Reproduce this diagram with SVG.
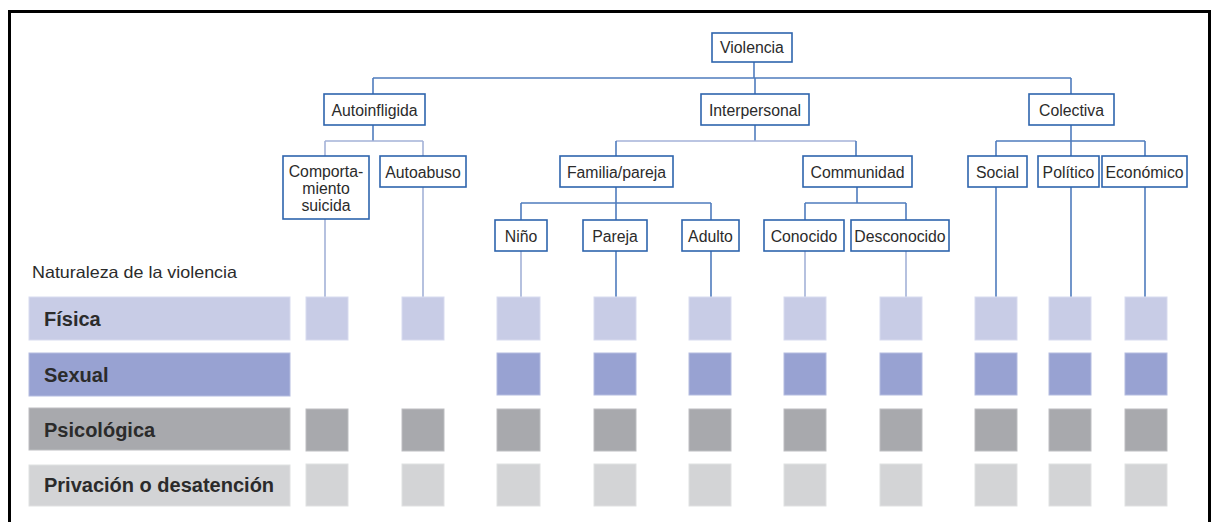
<svg xmlns="http://www.w3.org/2000/svg" width="1213" height="522" viewBox="0 0 1213 522">
<style>
.node rect{fill:#fff;stroke:#2e64ad;stroke-width:1.6}
.node text{font-family:"Liberation Sans",Arial,sans-serif;font-size:15.8px;fill:#2b2b2b;text-anchor:middle}
.c{fill:none;stroke:#4f7cbd;stroke-width:1.6}
.p{fill:none;stroke:#a4b2d8;stroke-width:1.6}
.lab{font-family:"Liberation Sans",Arial,sans-serif;font-weight:bold;font-size:20px;fill:#2b2b2b}
.f{fill:#c8cce6;stroke:#d8dbef;stroke-width:1}
.s{fill:#98a2d2;stroke:#b4bce0;stroke-width:1}
.g{fill:#a8a9ad;stroke:#bdbec1;stroke-width:1}
.l{fill:#d3d4d6;stroke:#e0e1e2;stroke-width:1}
</style>
<rect x="0" y="0" width="1213" height="522" fill="#fff"/>
<path d="M9.5 530 V11.5 H1209.5 V530" fill="none" stroke="#000" stroke-width="3"/>

<g id="connectors">
<path class="c" d="M754 62 V78 M373 78 H1071 M373 78 V94 M755 78 V94 M1071 78 V94"/>
<path class="c" d="M373 125 V141"/>
<path class="p" d="M325 141 H423 M325 141 V156 M423 141 V156"/>
<path class="c" d="M755 125 V141"/>
<path class="p" d="M616 141 H856"/>
<path class="c" d="M616 141 V156 M856 141 V156"/>
<path class="c" d="M1071 125 V141 M996 141 H1145 M996 141 V156 M1071 141 V156 M1145 141 V156"/>
<path class="c" d="M616 187 V203 M521 203 H711 M521 203 V220 M616 203 V220 M711 203 V220"/>
<path class="c" d="M857 187 V203 M805 203 H906 M805 203 V220 M906 203 V220"/>
<path class="p" d="M325 219 V297 M423 187 V297 M521 251 V297 M805 251 V297 M906 251 V297"/>
<path class="c" d="M616 251 V297 M711 251 V297 M996 187 V297 M1071 187 V297 M1145 187 V297"/>
</g>

<g id="violencia" class="node"><rect x="712" y="33" width="80" height="29"/><text x="752" y="53">Violencia</text></g>
<g id="autoinfligida" class="node"><rect x="324" y="94" width="101" height="31"/><text x="374.5" y="115.5">Autoinfligida</text></g>
<g id="interpersonal" class="node"><rect x="701" y="94" width="108" height="31"/><text x="755" y="115.5">Interpersonal</text></g>
<g id="colectiva" class="node"><rect x="1029" y="94" width="85" height="31"/><text x="1071.5" y="115.5">Colectiva</text></g>

<g id="comportamiento" class="node"><rect x="283" y="156" width="86" height="63"/><text x="326" y="177">Comporta-</text><text x="326" y="194">miento</text><text x="326" y="211">suicida</text></g>
<g id="autoabuso" class="node"><rect x="380" y="156" width="86" height="31"/><text x="423" y="177.5">Autoabuso</text></g>
<g id="familia" class="node"><rect x="560" y="156" width="113" height="31"/><text x="616.5" y="177.5">Familia/pareja</text></g>
<g id="communidad" class="node"><rect x="803" y="156" width="109" height="31"/><text x="857.5" y="177.5">Communidad</text></g>
<g id="social" class="node"><rect x="968" y="156" width="59" height="31"/><text x="997.5" y="177.5">Social</text></g>
<g id="politico" class="node"><rect x="1038" y="156" width="61" height="31"/><text x="1068.5" y="177.5">Político</text></g>
<g id="economico" class="node"><rect x="1102" y="156" width="85" height="31"/><text x="1144.5" y="177.5">Económico</text></g>

<g id="nino" class="node"><rect x="495" y="220" width="52" height="31"/><text x="521" y="241.5">Niño</text></g>
<g id="pareja" class="node"><rect x="583" y="220" width="64" height="31"/><text x="615" y="241.5">Pareja</text></g>
<g id="adulto" class="node"><rect x="682" y="220" width="57" height="31"/><text x="710.5" y="241.5">Adulto</text></g>
<g id="conocido" class="node"><rect x="764" y="220" width="80" height="31"/><text x="804" y="241.5">Conocido</text></g>
<g id="desconocido" class="node"><rect x="851" y="220" width="98" height="31"/><text x="900" y="241.5">Desconocido</text></g>

<text x="32" y="278" font-family="'Liberation Sans',Arial,sans-serif" font-size="16.5" fill="#2b2b2b" textLength="205" lengthAdjust="spacingAndGlyphs">Naturaleza de la violencia</text>

<g id="fisica">
<rect class="f" x="29" y="297" width="261" height="43"/>
<text class="lab" x="44" y="326">Física</text>
<rect class="f" x="306" y="297" width="42" height="43"/><rect class="f" x="402" y="297" width="42" height="43"/><rect class="f" x="497" y="297" width="43" height="43"/><rect class="f" x="594" y="297" width="42" height="43"/><rect class="f" x="689" y="297" width="42" height="43"/><rect class="f" x="784" y="297" width="42" height="43"/><rect class="f" x="880" y="297" width="42" height="43"/><rect class="f" x="975" y="297" width="42" height="43"/><rect class="f" x="1049" y="297" width="42" height="43"/><rect class="f" x="1125" y="297" width="42" height="43"/>
</g>
<g id="sexual">
<rect class="s" x="29" y="353" width="261" height="43"/>
<text class="lab" x="44" y="382">Sexual</text>
<rect class="s" x="497" y="353" width="43" height="42"/><rect class="s" x="594" y="353" width="42" height="42"/><rect class="s" x="689" y="353" width="42" height="42"/><rect class="s" x="784" y="353" width="42" height="42"/><rect class="s" x="880" y="353" width="42" height="42"/><rect class="s" x="975" y="353" width="42" height="42"/><rect class="s" x="1049" y="353" width="42" height="42"/><rect class="s" x="1125" y="353" width="42" height="42"/>
</g>
<g id="psicologica">
<rect class="g" x="29" y="408" width="261" height="42"/>
<text class="lab" x="44" y="437">Psicológica</text>
<rect class="g" x="306" y="409" width="42" height="42"/><rect class="g" x="402" y="409" width="42" height="42"/><rect class="g" x="497" y="409" width="43" height="42"/><rect class="g" x="594" y="409" width="42" height="42"/><rect class="g" x="689" y="409" width="42" height="42"/><rect class="g" x="784" y="409" width="42" height="42"/><rect class="g" x="880" y="409" width="42" height="42"/><rect class="g" x="975" y="409" width="42" height="42"/><rect class="g" x="1049" y="409" width="42" height="42"/><rect class="g" x="1125" y="409" width="42" height="42"/>
</g>
<g id="privacion">
<rect class="l" x="29" y="465" width="261" height="41"/>
<text class="lab" x="44" y="492">Privación o desatención</text>
<rect class="l" x="306" y="464" width="42" height="42"/><rect class="l" x="402" y="464" width="42" height="42"/><rect class="l" x="497" y="464" width="43" height="42"/><rect class="l" x="594" y="464" width="42" height="42"/><rect class="l" x="689" y="464" width="42" height="42"/><rect class="l" x="784" y="464" width="42" height="42"/><rect class="l" x="880" y="464" width="42" height="42"/><rect class="l" x="975" y="464" width="42" height="42"/><rect class="l" x="1049" y="464" width="42" height="42"/><rect class="l" x="1125" y="464" width="42" height="42"/>
</g>
</svg>
